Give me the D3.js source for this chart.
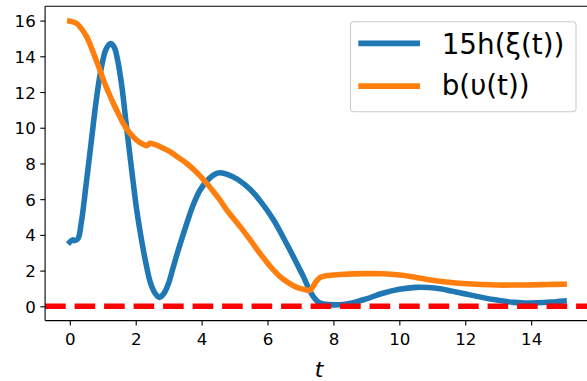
<!DOCTYPE html>
<html>
<head>
<meta charset="utf-8">
<script src="https://cdn.jsdelivr.net/npm/d3@7/dist/d3.min.js"></script>
<style>
html,body{margin:0;padding:0;background:#fff;}
svg{display:block;font-family:"DejaVu Sans",sans-serif;}
</style>
</head>
<body>
<svg id="chart" width="587" height="381"></svg>
<script>
// ---- data ----
const blueT = [0,0.08,0.15,0.25,0.35,0.5,0.65,0.8,0.95,1.1,1.24,1.35,1.45,1.58,1.73,1.88,2.03,2.15,2.3,2.45,2.6,2.72,2.85,3.0,3.14,3.3,3.55,3.75,3.95,4.2,4.4,4.56,4.8,5.1,5.47,5.8,6.18,6.45,6.68,6.9,7.09,7.25,7.39,7.55,7.75,8.0,8.3,8.6,9.0,9.5,10.0,10.5,10.9,11.24,11.6,11.94,12.5,12.96,13.46,13.8,14.17,14.6,15.0];
const blueV = [3.6,3.72,3.68,3.8,4.7,6.9,9.2,11.5,13.3,14.4,14.72,14.5,13.8,12.3,9.9,7.6,5.4,4.0,2.5,1.3,0.7,0.5,0.7,1.3,2.2,3.2,4.65,5.7,6.5,7.1,7.4,7.48,7.38,7.1,6.55,5.85,4.85,3.95,3.15,2.35,1.66,1.0,0.54,0.22,0.11,0.08,0.1,0.2,0.42,0.73,0.95,1.06,1.05,0.98,0.85,0.72,0.5,0.35,0.22,0.19,0.2,0.24,0.3];
const orangeT = [0,0.2,0.35,0.51,0.65,0.76,0.9,1.02,1.17,1.32,1.47,1.62,1.8,2.03,2.2,2.35,2.42,2.55,2.74,3.04,3.24,3.55,3.85,4.15,4.35,4.56,4.76,5.17,5.5,5.77,6.1,6.38,6.65,6.89,7.1,7.28,7.38,7.48,7.6,7.8,8.2,9.0,9.5,10.0,10.5,11.0,11.5,11.94,12.5,12.96,13.5,14.0,14.5,15.0];
const orangeV = [15.97,15.85,15.55,15.1,14.5,13.98,13.3,12.67,12.0,11.37,10.8,10.25,9.75,9.31,9.1,9.0,9.12,9.08,8.94,8.66,8.4,8.0,7.5,6.89,6.45,5.95,5.4,4.46,3.65,2.97,2.2,1.66,1.3,1.06,0.95,0.9,1.1,1.4,1.62,1.72,1.78,1.83,1.82,1.75,1.62,1.46,1.35,1.28,1.22,1.19,1.19,1.2,1.22,1.24];
const xTicks = [0,2,4,6,8,10,12,14];
const yTicks = [0,2,4,6,8,10,12,14,16];
const seriesNames = ["15h(\u03BE(t))","b(\u03C5(t))"];
const seriesColors = ["#1f77b4","#ff7f0e"];
const refLevel = 0;
const xLabel = "t";

// ---- layout ----
const svg = d3.select("#chart");
const L = 45.1, R = 588.8, T = 6.3, B = 320.6;
const x = d3.scaleLinear().domain([-0.75, 15.75]).range([L, R]);
const y = d3.scaleLinear().domain([-0.8, 16.8]).range([B, T]);
const lw = 5.56;

svg.append("defs").append("clipPath").attr("id","clip")
  .append("rect").attr("x",L).attr("y",T).attr("width",R-L).attr("height",B-T);

const plot = svg.append("g").attr("clip-path","url(#clip)");
const line = d3.line().x(d=>x(d[0])).y(d=>y(d[1])).curve(d3.curveCatmullRom.alpha(0.5));

const blueData = blueT.map((t,i)=>[t,blueV[i]]);
const orangeData = orangeT.map((t,i)=>[t,orangeV[i]]);

[blueData, orangeData].forEach((d,i)=>{
  plot.append("path").datum(d).attr("d",line)
    .attr("fill","none").attr("stroke",seriesColors[i])
    .attr("stroke-width",lw).attr("stroke-linecap","square").attr("stroke-linejoin","round");
});

plot.append("line").attr("x1",L).attr("x2",R).attr("y1",y(refLevel)).attr("y2",y(refLevel))
  .attr("stroke","#ff0000").attr("stroke-width",lw).attr("stroke-dasharray","20.6,8.9")
  .attr("stroke-linecap","butt");

// ---- axes ----
const xAxis = d3.axisBottom(x).tickValues(xTicks).tickSize(4.86).tickPadding(4.5).tickFormat(d3.format("d"));
const yAxis = d3.axisLeft(y).tickValues(yTicks).tickSize(4.86).tickPadding(4.5).tickFormat(d3.format("d"));
const gx = svg.append("g").attr("transform",`translate(0,${B})`).call(xAxis);
const gy = svg.append("g").attr("transform",`translate(${L},0)`).call(yAxis);
[gx,gy].forEach(g=>{
  g.select(".domain").remove();
  g.selectAll(".tick line").attr("stroke","#000").attr("stroke-width",1.1);
  g.selectAll(".tick text").attr("fill","#000").attr("font-size","16.67px")
    .attr("font-family","DejaVu Sans");
});
gx.selectAll(".tick text").attr("dy",null).attr("y",24.5);
gy.selectAll(".tick text").attr("dy","0.36em");

// spines
svg.append("line").attr("x1",L).attr("x2",L).attr("y1",T).attr("y2",B).attr("stroke","#000").attr("stroke-width",1.1);
svg.append("line").attr("x1",L).attr("x2",R).attr("y1",B).attr("y2",B).attr("stroke","#000").attr("stroke-width",1.1);
svg.append("line").attr("x1",L).attr("x2",R).attr("y1",T).attr("y2",T).attr("stroke","#000").attr("stroke-width",1.1);
svg.append("line").attr("x1",R).attr("x2",R).attr("y1",T).attr("y2",B).attr("stroke","#000").attr("stroke-width",1.1);

// x label
svg.append("text").attr("x",(L+R)/2+2).attr("y",377).attr("text-anchor","middle")
  .attr("font-size","22px").attr("font-style","italic").attr("font-family","DejaVu Sans")
  .attr("fill","#000").text(xLabel);

// ---- legend ----
const lg = svg.append("g");
lg.append("rect").attr("x",350.5).attr("y",21.7).attr("width",225.5).attr("height",90)
  .attr("rx",3.5).attr("ry",3.5).attr("fill","#fff").attr("fill-opacity",0.8)
  .attr("stroke","#cccccc").attr("stroke-width",1.1);
const legY = [43.4, 86.1];
const legBase = [54.2, 94.5];
seriesNames.forEach((n,i)=>{
  lg.append("line").attr("x1",358.3).attr("x2",420).attr("y1",legY[i]).attr("y2",legY[i])
    .attr("stroke",seriesColors[i]).attr("stroke-width",lw);
  lg.append("text").attr("x",441.7).attr("y",legBase[i]).attr("font-size","27.8px")
    .attr("font-family","DejaVu Sans").attr("fill","#000").text(n);
});
</script>
</body>
</html>
